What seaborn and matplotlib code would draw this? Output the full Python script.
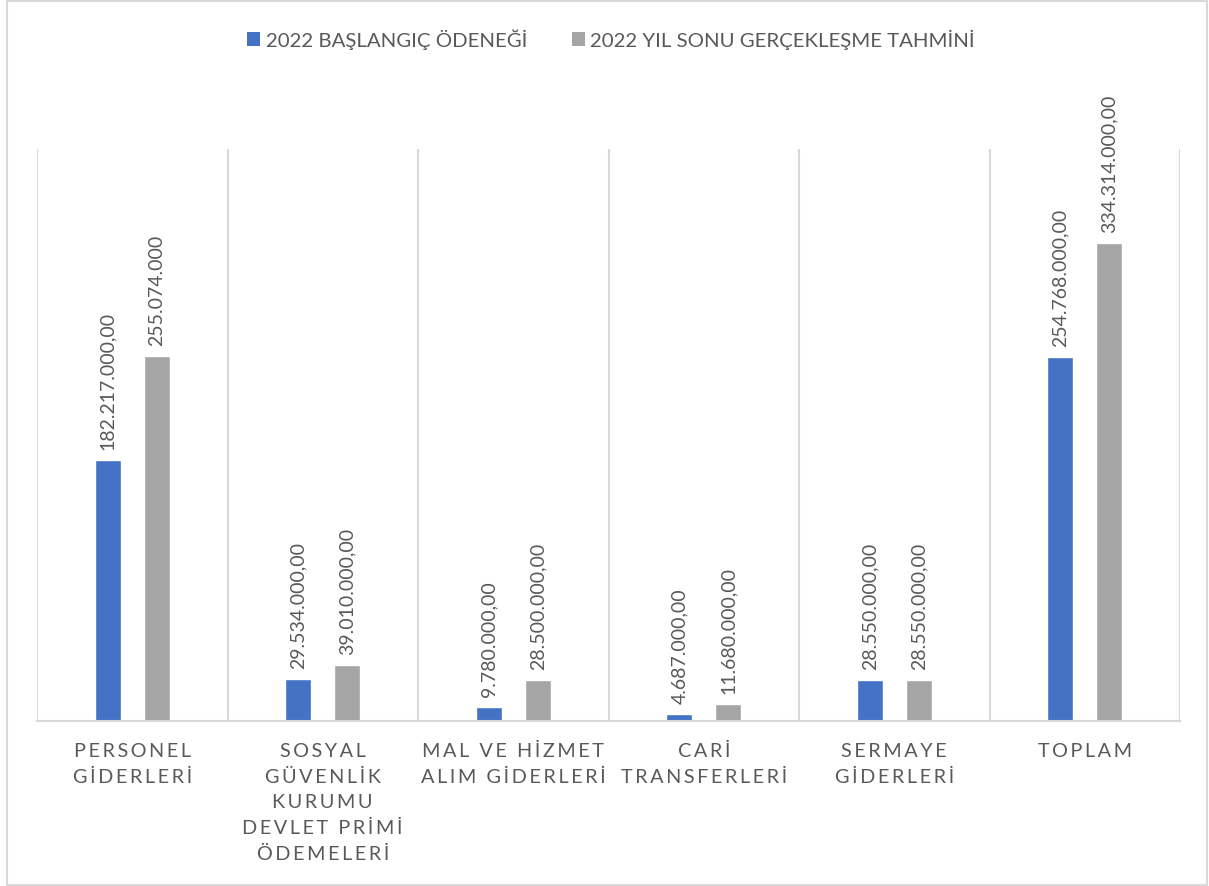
import matplotlib
matplotlib.use("Agg")
import matplotlib.pyplot as plt
import seaborn as sns
import pandas as pd
from matplotlib.patches import Rectangle, Patch

categories = ["PERSONEL\nGİDERLERİ",
              "SOSYAL\nGÜVENLİK\nKURUMU\nDEVLET PRİMİ\nÖDEMELERİ",
              "MAL VE HİZMET\nALIM GİDERLERİ",
              "CARİ\nTRANSFERLERİ",
              "SERMAYE\nGİDERLERİ",
              "TOPLAM"]
series_names = ["2022 BAŞLANGIÇ ÖDENEĞİ", "2022 YIL SONU GERÇEKLEŞME TAHMİNİ"]
baslangic = [182217000, 29534000, 9780000, 4687000, 28550000, 254768000]
tahmin = [255074000, 39010000, 28500000, 11680000, 28550000, 334314000]
baslangic_labels = ["182.217.000,00", "29.534.000,00", "9.780.000,00",
                    "4.687.000,00", "28.550.000,00", "254.768.000,00"]
tahmin_labels = ["255.074.000", "39.010.000,00", "28.500.000,00",
                 "11.680.000,00", "28.550.000,00", "334.314.000,00"]
colors = ["#4472C4", "#A5A5A5"]

sns.set_theme(style="white")
plt.rcParams['font.family'] = ['Lato', 'DejaVu Sans']
text_color = "#595959"
grid_color = "#D9D9D9"

df = pd.DataFrame({
    "cat": categories * 2,
    "series": [series_names[0]] * 6 + [series_names[1]] * 6,
    "value": baslangic + tahmin,
})

W, H = 1209, 887
fig = plt.figure(figsize=(W / 100, H / 100), dpi=100)
ax = fig.add_axes([37 / W, 1 - 722 / H, (1180 - 37) / W, (722 - 150) / H])

sns.barplot(data=df, x="cat", y="value", hue="series", order=categories,
            hue_order=series_names, palette=colors, width=0.516, gap=0.47,
            saturation=1, ax=ax, legend=False, errorbar=None)

ax.set_ylim(0, 400e6)
ax.set_xlim(-0.5, len(categories) - 0.5)
ax.set_yticks([])
ax.set_xlabel("")
ax.set_ylabel("")

# category separator lines
ax.set_xticks([i - 0.5 for i in range(len(categories) + 1)], minor=True)
ax.grid(False)
ax.grid(True, which="minor", axis="x", color=grid_color, linewidth=1.5)
ax.tick_params(axis="x", which="both", length=0)

def spaced(s):
    return "\n".join("\u2009".join(line) for line in s.split("\n"))

ax.set_xticks(range(len(categories)))
ax.set_xticklabels([spaced(c) for c in categories], fontsize=14.3,
                   color=text_color, linespacing=1.62)
ax.tick_params(axis="x", which="major", pad=15)

for sp in ["left", "right", "top"]:
    ax.spines[sp].set_visible(False)
ax.spines["bottom"].set_color(grid_color)
ax.spines["bottom"].set_linewidth(1.5)

# data labels
for container, labels in zip(ax.containers, [baslangic_labels, tahmin_labels]):
    for bar, lab in zip(container, labels):
        x = bar.get_x() + bar.get_width() / 2
        y = bar.get_height()
        ax.annotate(lab, (x, y), xytext=(0, 8), textcoords="offset points",
                    rotation=90, ha="center", va="bottom", fontsize=14,
                    color=text_color)

handles = [Patch(facecolor=c, edgecolor="none") for c in colors]
fig.legend(handles, series_names, loc="center", bbox_to_anchor=(611 / W, 1 - 40 / H),
           ncol=2, frameon=False, fontsize=14.7, labelcolor=text_color,
           handlelength=0.65, handleheight=0.65, handletextpad=0.25,
           columnspacing=2.2)

fig.patches.append(Rectangle((7 / W, 1 / H), (1207 - 7) / W, (886 - 2) / H,
                             transform=fig.transFigure, fill=False,
                             edgecolor=grid_color, linewidth=1.5))

fig.savefig("out.png", dpi=100, facecolor="white")
